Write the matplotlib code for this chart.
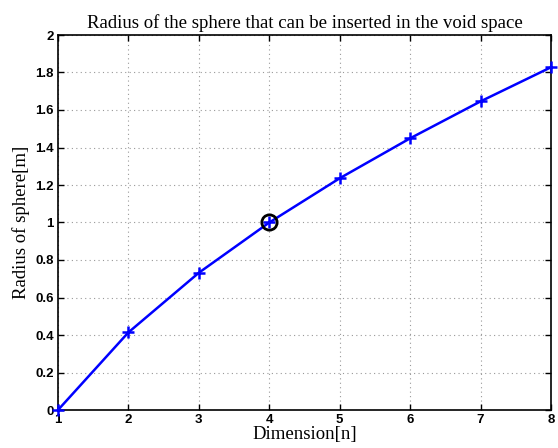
import matplotlib
matplotlib.use("Agg")
import matplotlib.pyplot as plt

# data
dimension = [1, 2, 3, 4, 5, 6, 7, 8]
radius = [0.0, 0.414, 0.732, 1.0, 1.236, 1.449, 1.646, 1.828]
highlight_x = [4]
highlight_y = [1.0]

fig = plt.figure(figsize=(5.58, 4.48), dpi=100)
ax = fig.add_axes([58 / 558, 1 - 410 / 448, (551 - 58) / 558, (410 - 35) / 448])

ax.plot(dimension, radius, color="blue", linewidth=1.8, marker="+",
        markersize=9, markeredgewidth=1.8, clip_on=False, zorder=3)
ax.plot(highlight_x, highlight_y, linestyle="none", marker="o", markersize=11,
        markerfacecolor="none", markeredgecolor="black", markeredgewidth=2,
        zorder=4)

ax.set_xlim(1, 8)
ax.set_ylim(0, 2)
ax.set_xticks(range(1, 9))
ax.set_yticks([0, 0.2, 0.4, 0.6, 0.8, 1, 1.2, 1.4, 1.6, 1.8, 2])
ax.set_yticklabels(["0", "0.2", "0.4", "0.6", "0.8", "1", "1.2", "1.4",
                    "1.6", "1.8", "2"])
ax.grid(True, color="#999999", linestyle=(0, (1, 3)), linewidth=0.8)
ax.tick_params(direction="in", top=True, right=True, length=4, width=1,
               labelsize=9.5, pad=3)
for lab in ax.get_xticklabels() + ax.get_yticklabels():
    lab.set_fontweight("bold")
    lab.set_family("Liberation Sans")
for sp in ax.spines.values():
    sp.set_linewidth(1.2)

serif = {"family": "Liberation Serif", "size": 13.5}
ax.set_title("Radius of the sphere that can be inserted in the void space",
             fontdict=serif, pad=5)
ax.set_xlabel("Dimension[n]", fontdict=serif, labelpad=0)
ax.set_ylabel("Radius of sphere[m]", fontdict=serif, labelpad=4)

fig.savefig("out.png", dpi=100)
